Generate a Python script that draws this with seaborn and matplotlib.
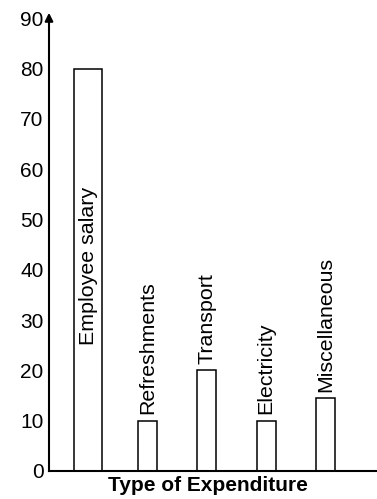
import matplotlib
matplotlib.use("Agg")
import matplotlib.pyplot as plt
import seaborn as sns
import pandas as pd

# ---- data ----
categories = ["Employee salary", "Refreshments", "Transport", "Electricity", "Miscellaneous"]
values = [80, 10, 20, 10, 14.5]
y_ticks = [0, 10, 20, 30, 40, 50, 60, 70, 80, 90]
x_label = "Type of Expenditure"

# ---- style ----
bar_widths = [0.47, 0.32, 0.32, 0.32, 0.32]
inside_label_at = {"Employee salary": 25}
label_gap = 1.3

sns.set_style("white")
plt.rcParams["font.family"] = ["Liberation Sans", "DejaVu Sans"]

fig = plt.figure(figsize=(3.77, 4.99), dpi=100)
ax = fig.add_axes([49 / 377, 28 / 499, 328 / 377, 461 / 499])

df = pd.DataFrame({"category": categories, "value": values})
sns.barplot(data=df, x="category", y="value", ax=ax, color="white",
            edgecolor="black", linewidth=1.1, width=0.32, saturation=1)

for p, w in zip(ax.patches, bar_widths):
    cx = p.get_x() + p.get_width() / 2
    p.set_x(cx - w / 2)
    p.set_width(w)

for i, (c, v) in enumerate(zip(categories, values)):
    y = inside_label_at.get(c, v + label_gap)
    ax.text(i, y, c, rotation=90, ha="center", va="bottom", fontsize=15.4, color="black")

ax.set_xlim(-0.657, 4.865)
ax.set_ylim(0, 91.65)
ax.set_yticks(y_ticks)
ax.tick_params(axis="y", length=0, pad=4, labelsize=15, labelcolor="black")
ax.tick_params(axis="x", length=0, labelbottom=False)
ax.set_ylabel("")
ax.set_xlabel(x_label, fontsize=15, fontweight="bold", color="black")
ax.xaxis.set_label_coords(0.485, -0.01)

for s in ["top", "right"]:
    ax.spines[s].set_visible(False)
for s in ["left", "bottom"]:
    ax.spines[s].set_color("black")
    ax.spines[s].set_linewidth(1.5)
ax.spines["left"].set_bounds(0, 90)

ax.annotate("", xy=(0, 1), xycoords="axes fraction", xytext=(0, 0.97),
            textcoords="axes fraction",
            arrowprops=dict(arrowstyle="-|>", lw=1.5, color="black", mutation_scale=12),
            annotation_clip=False)

fig.savefig("out.png", dpi=100)
